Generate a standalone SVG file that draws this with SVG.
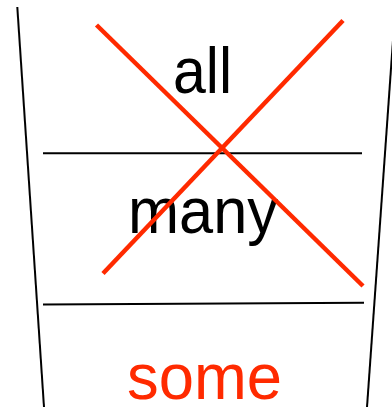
<svg xmlns="http://www.w3.org/2000/svg" width="392" height="407" viewBox="0 0 392 407">
<style>
.frame{stroke:#000;stroke-width:2;fill:none}
.cross{stroke:#ff2a00;stroke-width:4.5;fill:none}
.lbl{font-family:"Liberation Sans",Arial,sans-serif;font-size:64px;text-anchor:start}
</style>
<rect width="392" height="407" fill="#fff"/>
<g id="frame">
<line class="frame" x1="17.3" y1="7" x2="44" y2="407"/>
<line class="frame" x1="395" y1="12" x2="367" y2="407"/>
<line class="frame" x1="43" y1="153.3" x2="362" y2="153.3"/>
<line class="frame" x1="43" y1="304.5" x2="364" y2="302.8"/>
</g>
<g id="labels">
<text class="lbl" x="173" y="93" textLength="59" lengthAdjust="spacingAndGlyphs" fill="#000">all</text>
<text class="lbl" x="128" y="233" textLength="150" lengthAdjust="spacingAndGlyphs" fill="#000">many</text>
<text class="lbl" x="127" y="399" textLength="155" lengthAdjust="spacingAndGlyphs" fill="#ff2a00">some</text>
</g>
<g id="cross">
<line class="cross" x1="96.5" y1="25" x2="363" y2="286"/>
<line class="cross" x1="343" y1="20.5" x2="103" y2="273.5"/>
</g>
</svg>
